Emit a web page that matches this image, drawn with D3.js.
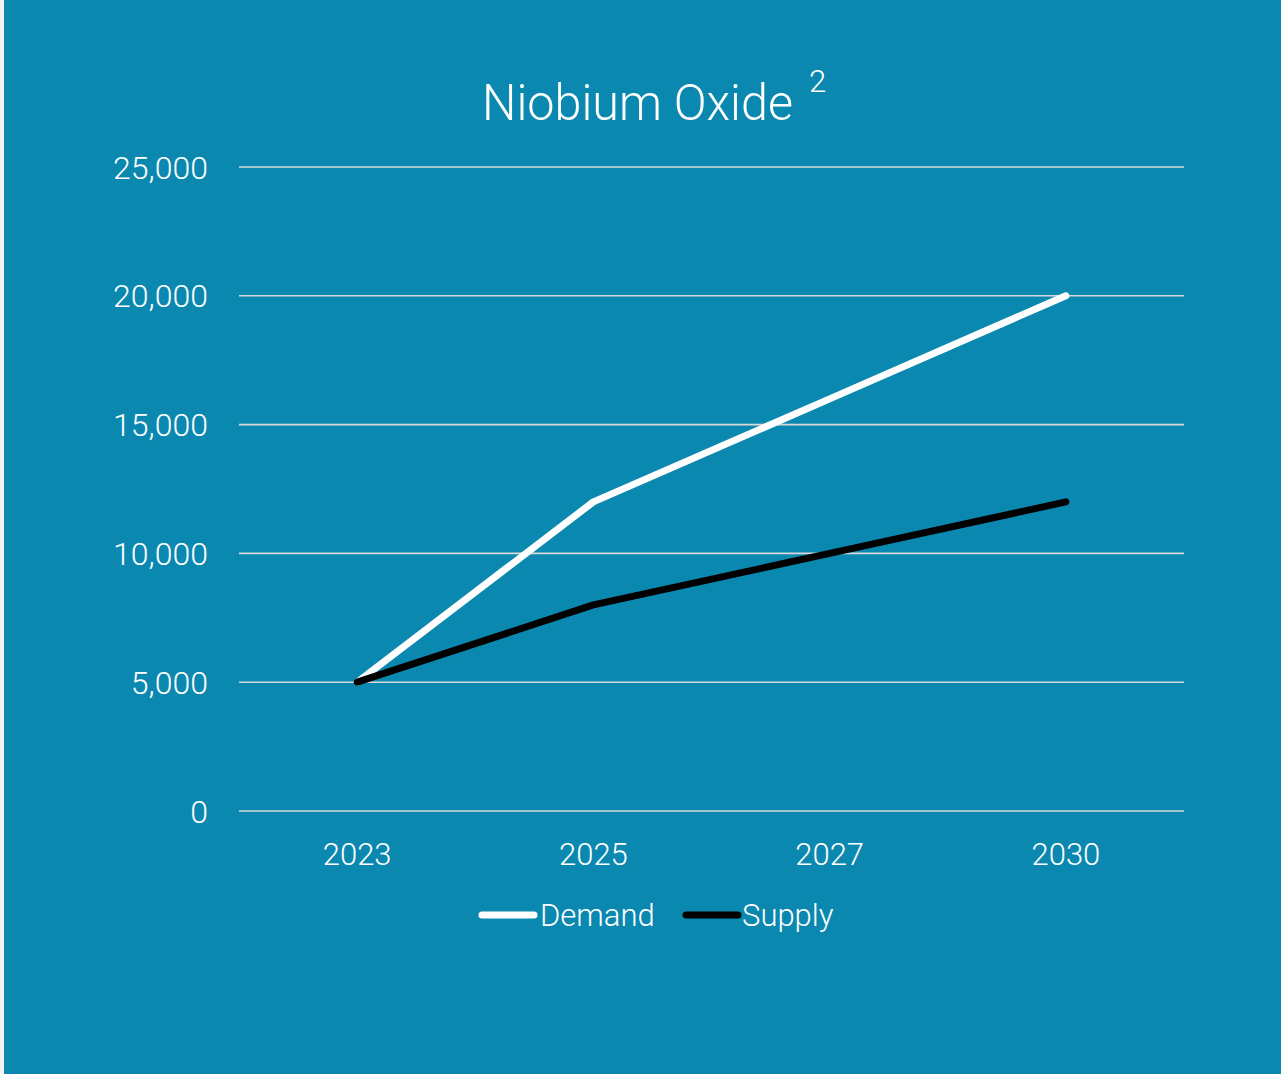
<!DOCTYPE html>
<html>
<head>
<meta charset="utf-8">
<script src="https://cdn.jsdelivr.net/npm/d3@7"></script>
<style>
  html, body { margin: 0; padding: 0; background: #f2f2f2; }
  svg { display: block; }
  text { font-family: Roboto, "Liberation Sans", sans-serif; font-weight: 300; fill: #ffffff; }
</style>
</head>
<body>
<script>
// Niobium oxide outlook: demand vs supply (tonnes)
const years = ["2023", "2025", "2027", "2030"];
const demand = [5000, 12000, 16000, 20000];
const supply = [5000, 8000, 10000, 12000];
const yTicks = [0, 5000, 10000, 15000, 20000, 25000];
const seriesNames = ["Demand", "Supply"];
const seriesColors = ["#ffffff", "#000000"];

const W = 1281, H = 1074;
const svg = d3.select("body").append("svg").attr("width", W).attr("height", H);

svg.append("rect").attr("x", 4).attr("y", 0).attr("width", W - 4).attr("height", H).attr("fill", "#0b88b0");

const plot = { left: 239, right: 1184, top: 167, bottom: 811 };

const x = d3.scalePoint().domain(years).range([plot.left, plot.right]).padding(0.5);
const y = d3.scaleLinear().domain([0, 25000]).range([plot.bottom, plot.top]);

// gridlines
svg.append("g").selectAll("line").data(yTicks).join("line")
  .attr("x1", plot.left).attr("x2", plot.right)
  .attr("y1", d => y(d)).attr("y2", d => y(d))
  .attr("stroke", "#d9d9d9").attr("stroke-width", 1.6);

// y axis labels
svg.append("g").selectAll("text").data(yTicks).join("text")
  .attr("x", 208).attr("y", d => y(d)).attr("dy", "0.36em")
  .attr("text-anchor", "end").attr("font-size", 32)
  .text(d => d3.format(",")(d));

// x axis labels
svg.append("g").selectAll("text").data(years).join("text")
  .attr("x", d => x(d)).attr("y", 865)
  .attr("text-anchor", "middle").attr("font-size", 31)
  .text(d => d);

// title with footnote marker
svg.append("text").attr("x", 482).attr("y", 120)
  .attr("font-size", 49.5).attr("textLength", 311).attr("lengthAdjust", "spacingAndGlyphs")
  .text("Niobium Oxide");
svg.append("text").attr("x", 809).attr("y", 92)
  .attr("font-size", 31).text("2");

// series lines
const line = d3.line().x((d, i) => x(years[i])).y(d => y(d));
[demand, supply].forEach((vals, k) => {
  svg.append("path").datum(vals)
    .attr("d", line)
    .attr("fill", "none")
    .attr("stroke", seriesColors[k])
    .attr("stroke-width", 7)
    .attr("stroke-linecap", "round")
    .attr("stroke-linejoin", "round");
});

// legend
const legendItems = [{ x: 482, tx: 540 }, { x: 686, tx: 742 }];
seriesNames.forEach((name, k) => {
  const g = svg.append("g");
  g.append("line")
    .attr("x1", legendItems[k].x).attr("x2", legendItems[k].x + 52)
    .attr("y1", 915).attr("y2", 915)
    .attr("stroke", seriesColors[k]).attr("stroke-width", 7)
    .attr("stroke-linecap", "round");
  g.append("text").attr("x", legendItems[k].tx).attr("y", 926)
    .attr("font-size", 31).text(name);
});
</script>
</body>
</html>
